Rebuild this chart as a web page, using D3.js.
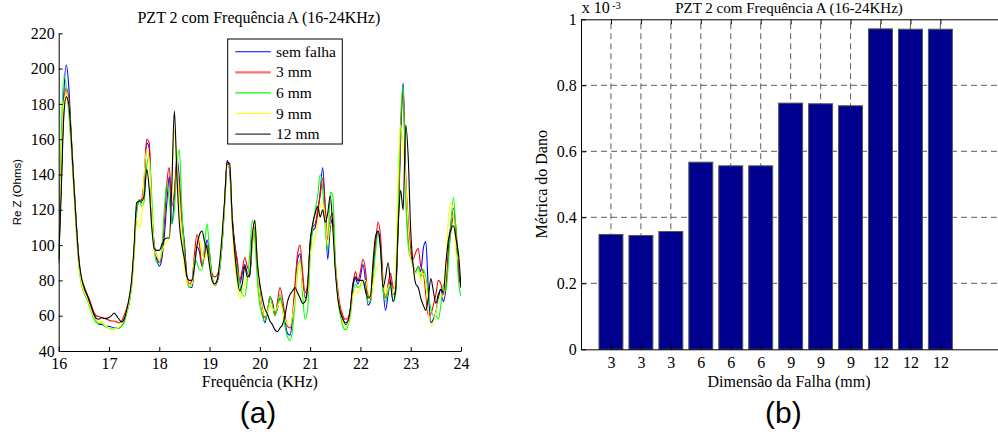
<!DOCTYPE html>
<html><head><meta charset="utf-8">
<script src="https://cdn.jsdelivr.net/npm/d3@7/dist/d3.min.js"></script>
<style>
html,body{margin:0;padding:0;background:#fff;overflow:hidden}
svg{display:block}
</style></head><body>
<svg id="chart" width="998" height="434"></svg>
<script>
// ---------- DATA: left chart (Re Z vs frequency, 0.05 kHz grid from 16 to 24) ----------
const freqStart = 16, freqStep = 0.05, freqCount = 161;
const frequencies = d3.range(freqCount).map(i => +(freqStart + i * freqStep).toFixed(2));
const seriesNames = ["sem falha", "3 mm", "6 mm", "9 mm", "12 mm"];
const seriesColors = ["#0000ff", "#ff0000", "#00ff00", "#ffff00", "#000000"];

const semFalha = [
  92,137,184,202,190,162,136,112,92,80,
  75,72,68,64,60,57,55,55,54.5,54,
  54,53.5,53,53,53,54,57,62,67,78,
  97,120,125,124,135,158,155,118,100,92,
  88,92,105,124,139,112,127,150,137,116,
  101,82,76,76,88,99,96,88,95,103,
  95,82,77,79,86,101,124,148,142,116,
  101,90,78,84,89,84,82,104,110,88,
  72,62,56,62,70,68,61,64,70,66,
  57,50,49,58,75,92,95,80,70,76,
  100,108,110,118,130,144,120,92,110,115,
  88,72,63,58,55,56,64,76,81,78,
  82,89,80,66,68,85,100,108,100,76,
  63,72,80,72,74,110,160,192,135,104,
  95,88,85,88,85,98,102,75,56,58,
  62,70,75,68,76,98,112,121,105,85,
  76];
const falha3mm = [
  92,135,178,189,183,160,135,112,93,81,
  76,73,70,66,62,60,59.5,59,58.5,58,
  57.5,57,57,56.5,56,57,60,64,69,79,
  97,120,125,126,138,160,158,120,100,94,
  90,95,112,135,144,122,130,146,132,112,
  100,82,78,80,95,106,100,88,94,100,
  92,84,82,83,88,102,124,146,144,116,
  100,92,80,86,93,88,85,100,110,90,
  74,64,59,62,71,67,60,68,76,70,
  60,54,53,60,78,95,100,85,73,78,
  100,110,112,120,128,138,122,103,115,118,
  90,75,65,60,58,58.5,64,77,85,80,
  85,92,86,72,70,85,100,113,105,80,
  70,78,84,76,75,112,165,186,140,114,
  98,92,96,98,88,85,72,60,61,66,
  72,80,78,72,78,95,108,116,110,88,
  76];
const falha6mm = [
  92,160,196,190,175,155,132,108,88,78,
  73,70,66,62,58,56,55.5,56,54.5,53.5,
  53,52.5,52.5,53,53,54,56,61,67,76,
  95,118,126,122,125,145,150,128,98,90,
  90,98,120,135,125,112,120,145,154,120,
  95,80,76,78,92,90,86,86,100,112,
  96,82,78,80,86,100,122,145,145,112,
  96,86,78,72,71,80,95,114,104,80,
  66,60,57,62,71,66,60,65,72,64,
  54,48,46,52,68,85,92,72,58,64,
  92,110,120,128,140,132,110,97,130,128,
  92,70,60,54,52,54,60,72,78,76,
  77,80,75,68,68,80,96,106,98,75,
  68,74,78,68,72,120,172,190,128,100,
  92,88,84,88,82,86,82,72,64,60,
  60,58,66,78,74,90,112,127,108,80,
  71];
const falha9mm = [
  90,145,180,186,180,158,134,110,90,79,
  74,71,67,63,59,57,56,57,55,54,
  53,53,52.5,53,53.5,55,58,62,68,77,
  95,115,110,115,140,154,148,120,98,94,
  92,96,100,102,104,130,165,150,125,104,
  88,80,77,78,90,100,104,96,92,96,
  90,80,77,80,88,103,123,145,145,112,
  90,78,70,72,78,82,86,100,114,90,
  72,63,60,62,66,64,63,65,68,63,
  58,55,54,60,70,86,90,76,68,72,
  95,100,104,112,122,124,115,100,112,110,
  88,72,62,57,54,55,62,72,74,73,
  76,80,80,74,70,78,85,88,90,80,
  72,76,78,72,85,140,168,155,136,110,
  92,88,84,86,80,84,78,62,54,56,
  62,68,72,70,85,115,124,118,95,92,
  91];
const falha12mm = [
  90,130,172,184,180,160,135,112,92,82,
  77,73,69,65,61,58.5,58,59,58.5,58.5,
  59,60,61.5,60,58,56.5,58,63,70,80,
  100,124,125,125,128,143,132,110,98,97,
  97,100,103,104,104,135,176,140,112,100,
  92,82,80,80,88,100,106,108,102,98,
  88,80,78,80,90,106,126,147,146,115,
  96,82,74,78,88,82,84,105,114,90,
  78,70,64,61,57,55,52,51,53,55,
  60,68,72,74,76,73,70,67,68,76,
  102,112,118,122,116,120,113,118,128,110,
  86,70,62,58,56,57,64,78,82,80,
  80,80,74,70,71,90,105,108,98,76,
  82,90,78,68,75,110,131,120,168,150,
  108,88,78,76,70,66,63,70,81,74,
  67,72,75,73,90,103,109,111,104,95,
  76];
const leftXTicks = [16,17,18,19,20,21,22,23,24];
const leftYTicks = [40,60,80,100,120,140,160,180,200,220];

// ---------- DATA: right chart (damage metric bars, x 10^-3) ----------
const barLabels = ["3","3","3","6","6","6","9","9","9","12","12","12"];
const barValues = [0.348,0.345,0.357,0.567,0.556,0.556,0.746,0.744,0.738,0.971,0.970,0.970];
const rightYTicks = [0,0.2,0.4,0.6,0.8,1];

const titleText = "PZT 2 com Frequência A (16-24KHz)";

// ---------- DRAW ----------
const svg = d3.select("#chart");
const serif = "'Liberation Serif','Times New Roman',serif";
const sans = "'Liberation Sans',Arial,sans-serif";
const FS = 16;

// ===== Left chart =====
const L = {left: 58.7, right: 461, top: 33.3, bottom: 351};
const xL = d3.scaleLinear().domain([16, 24]).range([L.left, L.right]);
const yL = d3.scaleLinear().domain([40, 220]).range([L.bottom, L.top]);

const gL = svg.append("g");
const allSeries = [semFalha, falha3mm, falha6mm, falha9mm, falha12mm];
const line = d3.line().x((d, i) => xL(frequencies[i])).y(d => yL(d)).curve(d3.curveMonotoneX);
gL.append("defs").append("clipPath").attr("id", "clipL")
  .append("rect").attr("x", L.left).attr("y", L.top - 2).attr("width", L.right - L.left).attr("height", L.bottom - L.top + 2);
const linesG = gL.append("g").attr("clip-path", "url(#clipL)");
allSeries.forEach((s, k) => {
  linesG.append("path").datum(s).attr("d", line)
    .attr("fill", "none").attr("stroke", seriesColors[k]).attr("stroke-width", 1.1)
    .attr("stroke-linejoin", "round");
});

const axL = gL.append("g").attr("transform", `translate(0,${L.bottom})`)
  .call(d3.axisBottom(xL).tickValues(leftXTicks).tickFormat(d3.format("d")).tickSizeInner(-4).tickSizeOuter(0).tickPadding(7));
const ayL = gL.append("g").attr("transform", `translate(${L.left},0)`)
  .call(d3.axisLeft(yL).tickValues(leftYTicks).tickFormat(d3.format("d")).tickSizeInner(-4).tickSizeOuter(0).tickPadding(4));
[axL, ayL].forEach(a => {
  a.selectAll("text").attr("font-family", serif).attr("font-size", FS).attr("fill", "#000");
  a.selectAll("line,path").attr("stroke", "#000");
});

gL.append("text").attr("x", (L.left + L.right) / 2 - 1).attr("y", 22.5).attr("text-anchor", "middle")
  .attr("font-family", serif).attr("font-size", FS).text(titleText);
gL.append("text").attr("x", (L.left + L.right) / 2).attr("y", 386.5).attr("text-anchor", "middle")
  .attr("font-family", serif).attr("font-size", FS).text("Frequência (KHz)");
gL.append("text").attr("transform", `translate(20.8,${(L.top + L.bottom) / 2}) rotate(-90)`)
  .attr("text-anchor", "middle").attr("font-family", sans).attr("font-size", 11.5).text("Re Z (Ohms)");

// legend
const lg = gL.append("g");
lg.append("rect").attr("x", 227.7).attr("y", 39).attr("width", 114.6).attr("height", 105)
  .attr("fill", "#fff").attr("stroke", "#000").attr("stroke-width", 1);
seriesNames.forEach((n, k) => {
  const yy = 51.7 + k * 20.6;
  lg.append("line").attr("x1", 235.3).attr("x2", 270.7).attr("y1", yy).attr("y2", yy)
    .attr("stroke", k === 1 ? "#ff6f6f" : (k === 4 ? "#333" : seriesColors[k]))
    .attr("stroke-width", k === 1 ? 2.2 : 1.1);
  lg.append("text").attr("x", 276).attr("y", yy).attr("dy", "0.33em")
    .attr("font-family", serif).attr("font-size", 15.5).text(n);
});

svg.append("text").attr("x", 258).attr("y", 423).attr("text-anchor", "middle")
  .attr("font-family", sans).attr("font-size", 30).text("(a)");

// ===== Right chart =====
const R = {left: 581, top: 19.3, bottom: 349.3};
const step = 29.95;
const xR = d3.scaleLinear().domain([0, 14]).range([R.left, R.left + 14 * step]);
const yR = d3.scaleLinear().domain([0, 1]).range([R.bottom, R.top]);
const gR = svg.append("g");

// grid
const gridG = gR.append("g").attr("stroke", "#333").attr("stroke-width", 0.8).attr("stroke-dasharray", "6,4");
rightYTicks.filter(v => v > 0 && v < 1).forEach(v => {
  gridG.append("line").attr("x1", R.left).attr("x2", xR(14)).attr("y1", yR(v)).attr("y2", yR(v));
});
barLabels.forEach((b, i) => {
  gridG.append("line").attr("x1", xR(i + 1)).attr("x2", xR(i + 1)).attr("y1", yR(0)).attr("y2", yR(1));
});

// bars
const bw = 0.8 * step;
gR.selectAll("rect.bar").data(barValues).enter().append("rect").attr("class", "bar")
  .attr("x", (d, i) => xR(i + 1) - bw / 2).attr("width", bw)
  .attr("y", d => yR(d)).attr("height", d => yR(0) - yR(d))
  .attr("fill", "#00008f").attr("stroke", "#555").attr("stroke-width", 1);

// axes
const axR = gR.append("g").attr("transform", `translate(0,${R.bottom})`)
  .call(d3.axisBottom(xR).tickValues(d3.range(1, barLabels.length + 1)).tickFormat((d, i) => barLabels[i])
    .tickSizeInner(-5).tickSizeOuter(0).tickPadding(7));
const axRtop = gR.append("g").attr("transform", `translate(0,${R.top})`)
  .call(d3.axisTop(xR).tickValues(d3.range(1, barLabels.length + 1)).tickFormat("")
    .tickSizeInner(-5).tickSizeOuter(0));
const ayR = gR.append("g").attr("transform", `translate(${R.left},0)`)
  .call(d3.axisLeft(yR).tickValues(rightYTicks).tickFormat(d3.format("~g")).tickSizeInner(-5).tickSizeOuter(0).tickPadding(4.3));
[axR, axRtop, ayR].forEach(a => {
  a.selectAll("text").attr("font-family", serif).attr("font-size", FS).attr("fill", "#000");
  a.selectAll("line,path").attr("stroke", "#000");
});

gR.append("text").attr("x", 581.7).attr("y", 13.3).attr("font-family", serif).attr("font-size", FS).text("x 10");
gR.append("text").attr("x", 612).attr("y", 8.5).attr("font-family", serif).attr("font-size", 10.5).text("-3");
gR.append("text").attr("x", 789).attr("y", 13).attr("text-anchor", "middle")
  .attr("font-family", serif).attr("font-size", 15).text(titleText);
gR.append("text").attr("x", 789).attr("y", 386.5).attr("text-anchor", "middle")
  .attr("font-family", serif).attr("font-size", FS).text("Dimensão da Falha (mm)");
gR.append("text").attr("transform", `translate(546.5,${(R.top + R.bottom) / 2}) rotate(-90)`)
  .attr("text-anchor", "middle").attr("font-family", serif).attr("font-size", FS).text("Métrica do Dano");

svg.append("text").attr("x", 783.3).attr("y", 423).attr("text-anchor", "middle")
  .attr("font-family", sans).attr("font-size", 30).text("(b)");
</script>
</body></html>
